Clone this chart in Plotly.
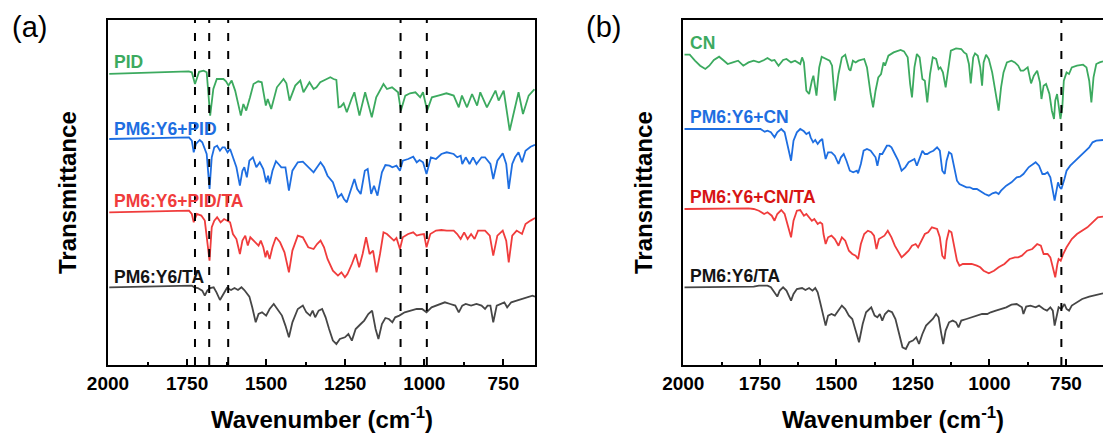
import plotly.graph_objects as go

# ---------------- data ----------------
# Panel (a): wavenumber (cm-1) and transmittance relative to each trace's baseline (a.u.)
pid_wn = [1996, 1900, 1800, 1745, 1735, 1725, 1712, 1698, 1688, 1677, 1667, 1656, 1635, 1627, 1619,
          1609, 1598, 1588, 1580, 1572, 1563, 1551, 1540, 1525, 1514, 1501, 1495, 1484, 1466, 1445,
          1436, 1426, 1408, 1392, 1382, 1363, 1350, 1341, 1329, 1310, 1297, 1287, 1278, 1271, 1264,
          1255, 1245, 1230, 1221, 1205, 1187, 1166, 1152, 1129, 1118, 1102, 1083, 1074, 1060, 1045,
          1028, 1013, 1004, 991, 976, 953, 930, 907, 891, 881, 865, 849, 833, 823, 802, 775, 765, 749,
          730, 718, 702, 688, 670, 652]
pid_t = [-0.5, 0.3, 1.3, 2.0, 1.0, -10.7, 1.5, 2.7, 1.0, -42.3, -15.7, -5.7, -5.7, -8.0, -12.3,
         -7.3, -17.3, -30.7, -42.3, -30.7, -37.3, -24.0, -10.7, -8.0, -9.0, -32.3, -25.7, -35.7, -14.0, -5.7,
         -10.0, -27.3, -12.3, -7.3, -19.0, -9.0, -15.7, -14.0, -9.0, -6.0, -4.0, -5.7, -6.7, -34.0, -33.3,
         -30.0, -39.0, -25.7, -19.0, -42.3, -19.0, -44.0, -24.0, -10.7, -15.7, -14.0, -19.0, -37.3, -22.3, -20.0,
         -19.0, -24.0, -19.0, -37.3, -24.0, -22.0, -20.0, -22.3, -34.0, -22.3, -34.0, -20.7, -32.3, -19.0, -34.0,
         -17.3, -27.3, -17.3, -57.3, -40.7, -19.0, -40.7, -22.3, -16.0]

bpid_wn = [1996, 1744, 1735, 1729, 1722, 1710, 1702, 1688, 1679, 1672, 1664, 1655, 1646, 1638, 1631,
           1622, 1614, 1605, 1594, 1583, 1575, 1569, 1561, 1553, 1542, 1531, 1520, 1509, 1500, 1494,
           1489, 1480, 1469, 1461, 1452, 1439, 1428, 1417, 1400, 1384, 1367, 1350, 1339, 1328, 1317,
           1306, 1289, 1273, 1262, 1254, 1245, 1234, 1221, 1212, 1201, 1188, 1179, 1168, 1159, 1148,
           1134, 1123, 1110, 1101, 1088, 1077, 1068, 1051, 1035, 1024, 1015, 1004, 993, 979, 963, 946,
           929, 907, 896, 885, 880, 869, 857, 846, 835, 819, 808, 791, 782, 769, 752, 741, 733, 722,
           713, 702, 691, 680, 664, 650]
bpid_t = [0.0, 1.7, -1.7, -13.3, -5.0, -1.0, -3.3, -15.0, -50.0, -18.3, -8.3, -6.7, -11.7, -8.3, -8.3,
          -13.3, -10.0, -18.3, -28.3, -46.7, -31.7, -28.3, -38.3, -21.7, -18.3, -28.3, -23.3, -30.0, -43.3, -36.7,
          -45.0, -31.7, -22.3, -25.0, -28.3, -28.3, -51.7, -31.7, -23.3, -22.7, -28.3, -33.3, -28.3, -23.3, -28.3,
          -36.7, -43.3, -58.3, -55.0, -60.0, -63.3, -53.3, -40.0, -50.0, -55.0, -31.7, -30.0, -55.0, -46.7, -56.7,
          -33.3, -26.0, -26.7, -28.3, -26.7, -31.7, -21.7, -20.0, -17.7, -23.3, -21.0, -23.3, -35.0, -18.3, -20.0, -15.0,
          -13.3, -15.0, -18.3, -16.7, -25.0, -18.3, -25.0, -18.3, -25.0, -18.3, -18.3, -25.0, -40.0, -21.7, -14.3, -25.0, -50.0, -25.0,
          -18.3, -13.3, -23.3, -11.7, -7.7, -5.7]

rpid_wn = [1996, 1744, 1735, 1729, 1719, 1705, 1694, 1679, 1672, 1664, 1655, 1644, 1633, 1622, 1614,
           1605, 1594, 1583, 1575, 1566, 1558, 1550, 1539, 1524, 1517, 1509, 1502, 1497, 1489, 1480,
           1469, 1456, 1442, 1428, 1417, 1400, 1384, 1367, 1350, 1339, 1328, 1317, 1306, 1289, 1273,
           1262, 1251, 1243, 1229, 1217, 1206, 1195, 1184, 1173, 1162, 1151, 1140, 1129, 1118, 1107,
           1096, 1088, 1077, 1068, 1051, 1035, 1024, 1013, 1001, 993, 981, 963, 946, 929, 907, 896,
           885, 874, 863, 852, 841, 830, 808, 793, 782, 769, 752, 741, 733, 722, 708, 691, 680, 664, 650]
rpid_t = [0.0, 1.7, -1.7, -10.0, -1.7, -3.3, -8.3, -48.3, -15.0, -8.3, -5.0, -10.0, -6.7, -8.3, -10.0,
          -21.7, -26.7, -41.7, -28.3, -23.3, -33.3, -25.0, -28.3, -33.3, -28.3, -35.0, -45.0, -38.3, -46.7, -35.0,
          -25.0, -30.0, -40.0, -60.0, -38.3, -23.3, -25.0, -35.0, -36.7, -31.7, -28.3, -35.0, -46.7, -58.3, -63.3,
          -60.0, -65.0, -61.7, -51.7, -41.7, -55.0, -41.7, -25.0, -41.7, -38.3, -60.0, -41.7, -20.0, -21.7, -25.0,
          -28.3, -25.7, -36.7, -25.0, -21.7, -20.0, -23.3, -22.3, -21.7, -35.0, -21.7, -18.3, -17.7, -18.3, -18.3, -21.7,
          -26.7, -20.0, -26.7, -21.7, -26.7, -18.3, -18.3, -23.3, -43.3, -23.3, -18.3, -28.3, -50.0, -23.3, -18.3,
          -21.7, -11.7, -8.3, -5.7]

ta_a_wn = [1996, 1744, 1735, 1727, 1716, 1702, 1694, 1686, 1677, 1666, 1657, 1646, 1635, 1624, 1611,
           1600, 1589, 1578, 1569, 1561, 1553, 1544, 1533, 1524, 1513, 1500, 1489, 1476, 1461, 1450,
           1439, 1428, 1417, 1400, 1384, 1373, 1361, 1353, 1345, 1334, 1323, 1312, 1301, 1289, 1278,
           1267, 1251, 1240, 1229, 1217, 1201, 1190, 1177, 1165, 1154, 1145, 1134, 1123, 1112, 1101,
           1092, 1079, 1062, 1040, 1024, 1007, 993, 977, 957, 935, 918, 902, 891, 880, 869, 852, 835,
           819, 808, 800, 791, 782, 771, 758, 747, 738, 725, 708, 691, 675, 658, 650]
ta_a_t = [0.0, 1.7, 1.7, 0.0, -0.7, -3.3, -8.3, -3.3, -0.7, 0.0, -5.0, -12.7, -6.7, -0.7, -2.7,
          -0.7, -2.7, 0.0, -2.7, -6.7, -9.3, -20.0, -35.0, -26.7, -25.0, -28.3, -21.7, -16.7, -23.3, -28.3,
          -38.3, -50.0, -35.0, -21.7, -18.3, -25.0, -28.3, -23.3, -30.0, -23.3, -21.7, -30.0, -41.7, -53.3, -56.7,
          -51.7, -50.0, -46.7, -53.3, -41.7, -36.7, -33.3, -26.7, -23.3, -41.7, -51.7, -36.7, -30.7, -31.7, -35.0,
          -30.0, -28.3, -25.0, -23.3, -21.7, -21.7, -25.0, -20.0, -17.3, -15.0, -16.7, -18.3, -25.0, -18.3, -16.7, -18.3, -16.7,
          -18.3, -21.7, -18.3, -18.3, -35.0, -18.3, -16.7, -15.0, -20.0, -15.0, -13.3, -11.7, -10.0, -8.3, -9.3]

# Panel (b)
cn_wn = [1996, 1979, 1962, 1945, 1928, 1915, 1900, 1883, 1870, 1855, 1838, 1821, 1804, 1787, 1770,
         1753, 1736, 1725, 1711, 1702, 1689, 1674, 1663, 1648, 1635, 1618, 1612, 1606, 1598, 1589,
         1580, 1575, 1565, 1556, 1548, 1535, 1522, 1514, 1505, 1493, 1482, 1471, 1459, 1454, 1446,
         1437, 1428, 1409, 1400, 1388, 1380, 1372, 1363, 1354, 1346, 1341, 1330, 1313, 1290, 1279,
         1267, 1259, 1253, 1245, 1237, 1228, 1219, 1211, 1203, 1194, 1185, 1174, 1166, 1160, 1152,
         1143, 1135, 1126, 1109, 1092, 1083, 1075, 1067, 1061, 1053, 1047, 1038, 1030, 1024, 1019,
         1011, 1002, 991, 979, 970, 962, 954, 943, 928, 917, 906, 898, 889, 875, 864, 855, 844, 835,
         830, 823, 815, 804, 796, 789, 785, 779, 774, 768, 762, 757, 748, 740, 731, 714, 694, 683,
         674, 667, 660, 651, 640, 629]
cn_t = [0.0, 0.0, -6.0, -11.0, -14.3, -11.0, -5.3, -2.0, -5.3, -9.3, -7.7, -6.0, -11.0, -7.7, -6.0,
        -7.7, -5.3, -3.3, -6.0, -5.3, -11.0, -5.3, -4.3, -7.7, -6.0, -9.3, -2.7, -7.7, -36.0, -39.3,
        -26.0, -21.0, -41.0, -12.7, -2.0, -4.3, -6.0, -11.0, -46.0, -19.3, -2.7, 0.0, -14.3, -16.0, -6.0,
        -7.7, -6.0, -4.3, -12.7, -39.3, -52.7, -36.0, -22.7, -19.3, -7.7, -11.0, -1.0, 2.3, 4.7, 3.3,
        -2.7, -29.3, -42.7, -12.7, 0.7, -2.7, -24.3, -26.0, -47.7, -19.3, -2.7, -4.3, -14.3, -12.7, -17.7,
        -32.7, -12.7, 4.0, 6.3, 5.7, 2.3, 0.7, -9.3, -28.7, -2.7, 1.3, -1.0, -12.7, -31.0, -7.7,
        0.0, -4.3, -17.7, -39.3, -56.0, -32.7, -17.7, -7.7, -6.0, -7.7, -11.0, -16.0, -16.0, -12.7, -28.7, -21.0, -16.0, -27.7,
        -44.3, -31.0, -29.3, -39.3, -56.0, -64.3, -46.0, -39.3, -49.3, -64.3, -52.7, -26.0, -17.7, -19.3, -12.7, -11.0, -10.0, -12.7,
        -26.0, -47.7, -22.7, -9.3, -7.7, -6.7]

bcn_wn = [1996, 1759, 1748, 1734, 1725, 1714, 1702, 1693, 1680, 1669, 1657, 1648, 1640, 1629, 1618,
          1606, 1598, 1589, 1584, 1576, 1569, 1561, 1553, 1546, 1542, 1535, 1527, 1516, 1505, 1493,
          1485, 1476, 1467, 1456, 1445, 1433, 1429, 1420, 1411, 1400, 1388, 1380, 1372, 1366, 1358,
          1350, 1343, 1335, 1327, 1320, 1309, 1298, 1287, 1275, 1264, 1253, 1245, 1237, 1228, 1219,
          1211, 1203, 1194, 1183, 1171, 1162, 1154, 1146, 1140, 1132, 1124, 1115, 1106, 1098, 1087,
          1075, 1064, 1053, 1041, 1030, 1015, 1002, 990, 979, 970, 962, 945, 928, 911, 900, 889, 872,
          857, 849, 838, 827, 819, 810, 801, 793, 787, 781, 776, 770, 765, 755, 748, 736, 719, 702,
          685, 674, 663, 651, 629]
bcn_t = [0.0, 0.7, 0.0, -2.7, -1.7, -3.3, -8.3, -3.3, 0.0, -3.3, -18.3, -31.7, -11.7, -3.3, 0.0,
         -2.3, -5.0, -3.3, -8.3, -13.3, -11.0, -15.0, -11.7, -10.0, -18.3, -30.0, -23.3, -23.3, -26.7, -35.0,
         -28.3, -25.0, -31.7, -41.7, -43.3, -41.7, -44.3, -35.0, -21.7, -20.0, -21.7, -25.0, -28.3, -36.7, -25.0,
         -25.0, -21.7, -16.7, -16.7, -18.3, -25.0, -31.7, -41.7, -38.3, -33.3, -31.0, -30.0, -36.7, -28.3, -21.7,
         -25.0, -25.0, -23.3, -21.7, -18.3, -21.7, -41.7, -45.0, -31.7, -23.3, -25.0, -38.3, -51.7, -55.0, -56.7,
         -58.3, -58.3, -60.0, -60.0, -62.3, -65.0, -66.7, -64.3, -63.3, -65.0, -61.7, -56.7, -53.3, -48.3, -47.7, -45.0, -38.3,
         -35.0, -33.3, -36.7, -45.0, -45.0, -43.3, -48.3, -63.3, -71.7, -61.7, -53.3, -58.3, -60.0, -50.0, -41.7, -36.7, -31.7, -26.7,
         -21.7, -18.3, -13.3, -11.7, -11.0]

rcn_wn = [1996, 1787, 1770, 1753, 1736, 1725, 1711, 1702, 1693, 1680, 1669, 1657, 1648, 1640, 1629,
          1618, 1606, 1598, 1589, 1580, 1572, 1561, 1553, 1546, 1542, 1535, 1527, 1516, 1505, 1493,
          1482, 1471, 1459, 1448, 1437, 1429, 1420, 1409, 1397, 1386, 1377, 1369, 1361, 1352, 1343,
          1332, 1320, 1309, 1298, 1287, 1275, 1264, 1253, 1241, 1233, 1222, 1211, 1200, 1188, 1171,
          1162, 1154, 1146, 1140, 1132, 1124, 1115, 1106, 1098, 1087, 1075, 1058, 1041, 1030, 1019,
          1002, 985, 970, 951, 934, 917, 906, 894, 877, 860, 844, 832, 823, 810, 801, 793, 785, 778,
          774, 767, 759, 748, 731, 714, 697, 680, 663, 646, 629]
rcn_t = [0.0, 0.7, 0.0, -1.7, -5.0, -3.3, -6.7, -11.7, -5.0, -1.0, -5.0, -18.3, -28.3, -11.7, -1.7,
         -1.0, -6.7, -5.0, -8.3, -11.7, -10.0, -15.0, -13.3, -15.0, -25.0, -35.0, -28.3, -26.7, -30.0, -36.7,
         -28.3, -31.7, -41.7, -45.0, -46.7, -50.0, -35.0, -25.0, -21.7, -23.3, -26.7, -40.0, -30.0, -28.3, -26.7,
         -21.7, -28.3, -36.7, -43.3, -48.3, -45.0, -41.7, -36.7, -35.0, -38.3, -31.7, -25.0, -23.3, -18.3, -20.0,
         -28.3, -46.7, -50.0, -31.7, -21.7, -23.3, -38.3, -51.7, -56.7, -55.0, -55.0, -55.0, -56.7, -58.3, -61.7,
         -64.3, -61.7, -58.3, -55.0, -50.0, -48.3, -48.3, -46.7, -41.7, -40.0, -35.0, -36.7, -45.0, -45.0, -48.3, -58.3, -68.3, -55.0,
         -50.0, -51.7, -45.0, -38.3, -30.0, -25.0, -21.7, -18.3, -13.3, -8.3, -7.7]

ta_b_wn = [1996, 1770, 1753, 1725, 1714, 1702, 1693, 1685, 1674, 1663, 1648, 1640, 1629, 1612, 1601,
           1589, 1578, 1569, 1561, 1553, 1544, 1535, 1527, 1516, 1505, 1493, 1482, 1471, 1459, 1448,
           1437, 1426, 1414, 1403, 1386, 1375, 1366, 1358, 1350, 1341, 1330, 1318, 1307, 1296, 1284,
           1273, 1262, 1250, 1239, 1230, 1219, 1207, 1196, 1185, 1174, 1166, 1158, 1151, 1143, 1132,
           1120, 1109, 1101, 1092, 1075, 1058, 1041, 1024, 1007, 996, 979, 962, 945, 928, 911, 894,
           889, 880, 866, 849, 838, 823, 812, 801, 793, 787, 780, 774, 765, 755, 748, 740, 731, 714,
           697, 674, 657, 640, 629]
ta_b_t = [0.0, 0.7, 1.7, 1.7, 0.0, -5.0, -9.3, -3.3, 0.0, -3.3, -13.3, -6.7, -1.7, -0.7, -2.7,
          -0.7, -3.3, -0.7, -5.0, -15.0, -26.7, -38.3, -28.3, -26.7, -28.3, -23.3, -18.3, -21.7, -28.3, -31.7,
          -43.3, -55.0, -36.7, -25.0, -20.0, -28.3, -30.0, -26.7, -33.3, -26.7, -23.3, -25.0, -31.7, -46.7, -60.0,
          -61.7, -55.0, -53.3, -50.0, -56.7, -46.7, -38.3, -35.0, -31.7, -26.7, -30.0, -45.0, -56.7, -43.3, -35.0,
          -33.3, -35.0, -40.0, -33.3, -31.7, -30.0, -28.3, -26.7, -26.7, -25.0, -23.3, -21.7, -20.0, -17.3, -16.7, -20.0,
          -26.7, -19.3, -18.3, -20.0, -18.3, -21.7, -23.3, -20.0, -23.3, -38.3, -28.3, -20.0, -21.7, -16.7, -21.7, -23.3, -18.3, -15.0,
          -11.7, -9.3, -8.3, -6.7, -6.0]

names_a = ["PID", "PM6:Y6+PID", "PM6:Y6+PID/TA", "PM6:Y6/TA"]
names_b = ["CN", "PM6:Y6+CN", "PM6:Y6+CN/TA", "PM6:Y6/TA"]
offsets_a = [291.7, 226.0, 152.7, 77.7]
offsets_b = [310.3, 236.0, 156.0, 77.7]
dashed_a = [1725, 1680, 1620, 1075, 992]
dashed_b = [765]
x_ticks = [2000, 1750, 1500, 1250, 1000, 750]

# ---------------- styling ----------------
line_colors = ["rgb(60,170,95)", "rgb(30,110,225)", "rgb(240,60,60)", "rgb(70,70,70)"]
label_colors_a = ["rgb(60,170,95)", "rgb(30,110,225)", "rgb(240,60,60)", "rgb(20,20,20)"]
label_colors_b = ["rgb(60,170,95)", "rgb(30,110,225)", "rgb(215,20,20)", "rgb(20,20,20)"]
FONT = "Liberation Sans, Arial, sans-serif"
W, H = 1103, 434

fig = go.Figure()
series_a = [(pid_wn, pid_t), (bpid_wn, bpid_t), (rpid_wn, rpid_t), (ta_a_wn, ta_a_t)]
series_b = [(cn_wn, cn_t), (bcn_wn, bcn_t), (rcn_wn, rcn_t), (ta_b_wn, ta_b_t)]
for i, (wn, t) in enumerate(series_a):
    fig.add_trace(go.Scatter(x=wn, y=[v + offsets_a[i] for v in t], mode="lines",
                             line=dict(color=line_colors[i], width=1.8), name=names_a[i],
                             xaxis="x", yaxis="y", showlegend=False))
for i, (wn, t) in enumerate(series_b):
    fig.add_trace(go.Scatter(x=wn, y=[v + offsets_b[i] for v in t], mode="lines",
                             line=dict(color=line_colors[i], width=1.8), name=names_b[i],
                             xaxis="x2", yaxis="y2", showlegend=False))

def px(x):
    return x / W

def py(y):
    return 1 - y / H

xcommon = dict(tickvals=x_ticks, ticks="inside", ticklen=6, tickwidth=1.5, tickcolor="black",
               showline=True, linecolor="black", linewidth=2, mirror=True, showgrid=False,
               zeroline=False, automargin=False,
               tickfont=dict(family=FONT, size=19, color="black", weight="bold"),
               minor=dict(dtick=125, tick0=0, ticks="inside", ticklen=3, tickcolor="black", tickwidth=1.5))
ycommon = dict(range=[0, 345], showticklabels=False, ticks="", showgrid=False, zeroline=False,
               showline=True, linecolor="black", linewidth=2, automargin=False)

fig.update_layout(
    template="none",
    width=W, height=H, margin=dict(l=0, r=0, t=0, b=0, pad=0, autoexpand=False),
    paper_bgcolor="white", plot_bgcolor="white", showlegend=False,
    xaxis=dict(domain=[px(108), px(535)], range=[2000, 650], anchor="y", **xcommon),
    yaxis=dict(domain=[py(365), py(20)], anchor="x", mirror=True, **ycommon),
    xaxis2=dict(domain=[px(683.3), 1.0], range=[2000, 629], anchor="y2", **xcommon),
    yaxis2=dict(domain=[py(365), py(20)], anchor="x2", mirror=False, **ycommon),
)

shapes = []
for w in dashed_a:
    shapes.append(dict(type="line", xref="x", yref="y domain", x0=w, x1=w, y0=0, y1=1,
                       line=dict(color="black", width=2, dash="8px,10px")))
for w in dashed_b:
    shapes.append(dict(type="line", xref="x2", yref="y2 domain", x0=w, x1=w, y0=0, y1=1,
                       line=dict(color="black", width=2, dash="8px,10px")))
fig.update_layout(shapes=shapes)

ann = []
lab_y_a = [61.7, 129, 201, 276.7]
lab_y_b = [43.3, 117.3, 196.7, 276]
for i, n in enumerate(names_a):
    ann.append(dict(x=px(112), y=py(lab_y_a[i]), xref="paper", yref="paper", text=n, showarrow=False,
                    xanchor="left", yanchor="middle",
                    font=dict(family=FONT, size=17.5, color=label_colors_a[i], weight="bold")))
for i, n in enumerate(names_b):
    ann.append(dict(x=px(688), y=py(lab_y_b[i]), xref="paper", yref="paper", text=n, showarrow=False,
                    xanchor="left", yanchor="middle",
                    font=dict(family=FONT, size=17.5, color=label_colors_b[i], weight="bold")))
for xc, lab in [(10, "(a)"), (584, "(b)")]:
    ann.append(dict(x=px(xc), y=py(27), xref="paper", yref="paper", text=lab, showarrow=False,
                    xanchor="left", yanchor="middle", font=dict(family=FONT, size=29, color="black")))
for xc in [67.5, 643.5]:
    ann.append(dict(x=px(xc), y=py(192.5), xref="paper", yref="paper", text="Transmittance",
                    showarrow=False, textangle=-90, xanchor="center", yanchor="middle",
                    font=dict(family=FONT, size=24, color="black", weight="bold")))
for xc in [321.5, 893]:
    ann.append(dict(x=px(xc), y=py(418), xref="paper", yref="paper", text="Wavenumber (cm<sup>-1</sup>)",
                    showarrow=False, xanchor="center", yanchor="middle",
                    font=dict(family=FONT, size=24, color="black", weight="bold")))
fig.update_layout(annotations=ann)

fig.write_html("out.html")
